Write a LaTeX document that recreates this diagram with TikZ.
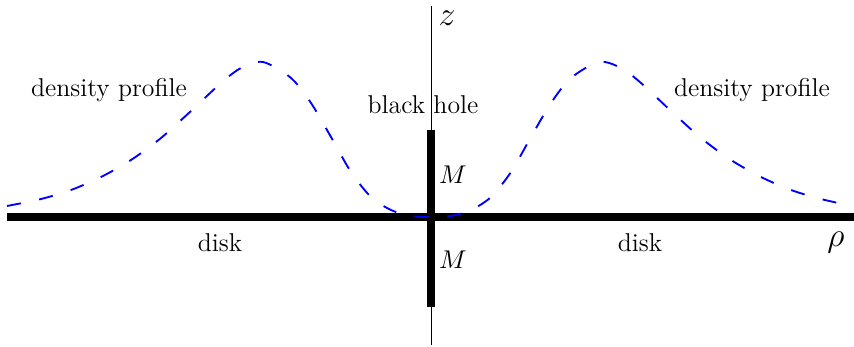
\documentclass[tikz,border=0pt]{standalone}
\tikzset{label text/.style={font=\fontsize{11}{13}\selectfont}}
\begin{document}
\begin{tikzpicture}[scale=0.6]
\useasboundingbox (-10.775,-3.225) rectangle (10.575,5.425);
\draw[line width=0.4pt] (0,-3.2) -- (0,5.275);
\draw[line width=3.4pt] (-10.6,0) -- (10.575,0);
\draw[line width=3.4pt] (0,-2.25) -- (0,2.175);

\draw[thick, blue, dash pattern=on 6pt off 8pt, smooth] plot coordinates {(-10.6,0.275) (-9.75,0.45) (-9,0.675) (-8.25,1) (-7.5,1.425) (-6.75,1.975) (-6,2.65) (-5.25,3.35) (-4.75,3.725) (-4.2,3.875) (-3.5,3.475) (-3,2.85) (-2.5,2) (-2,1.125) (-1.5,0.5) (-1,0.175) (-0.5,0.025) (0,0) (0.5,0.025) (1,0.175) (1.5,0.5) (2,1.125) (2.5,2) (3,2.85) (3.5,3.475) (4.2,3.875) (4.75,3.725) (5.25,3.35) (6,2.65) (6.75,1.975) (7.5,1.425) (8.25,1) (9,0.675) (9.75,0.45) (10.525,0.275)};

\node (zlabel) at (0.4,4.975) {\Large $z$};
\node (rholabel) at (10.125,-0.65) {\Large $\rho$};
\node[label text] (bh) at (-0.2,2.8) {black hole};
\node[label text] (mup) at (0.55,1.05) {$M$};
\node[label text] (mdown) at (0.55,-1.075) {$M$};
\node[label text] (profl) at (-8.05,3.175) {density profile};
\node[label text] (profr) at (8.025,3.175) {density profile};
\node[label text] (diskl) at (-5.275,-0.65) {disk};
\node[label text] (diskr) at (5.225,-0.65) {disk};
\end{tikzpicture}
\end{document}
